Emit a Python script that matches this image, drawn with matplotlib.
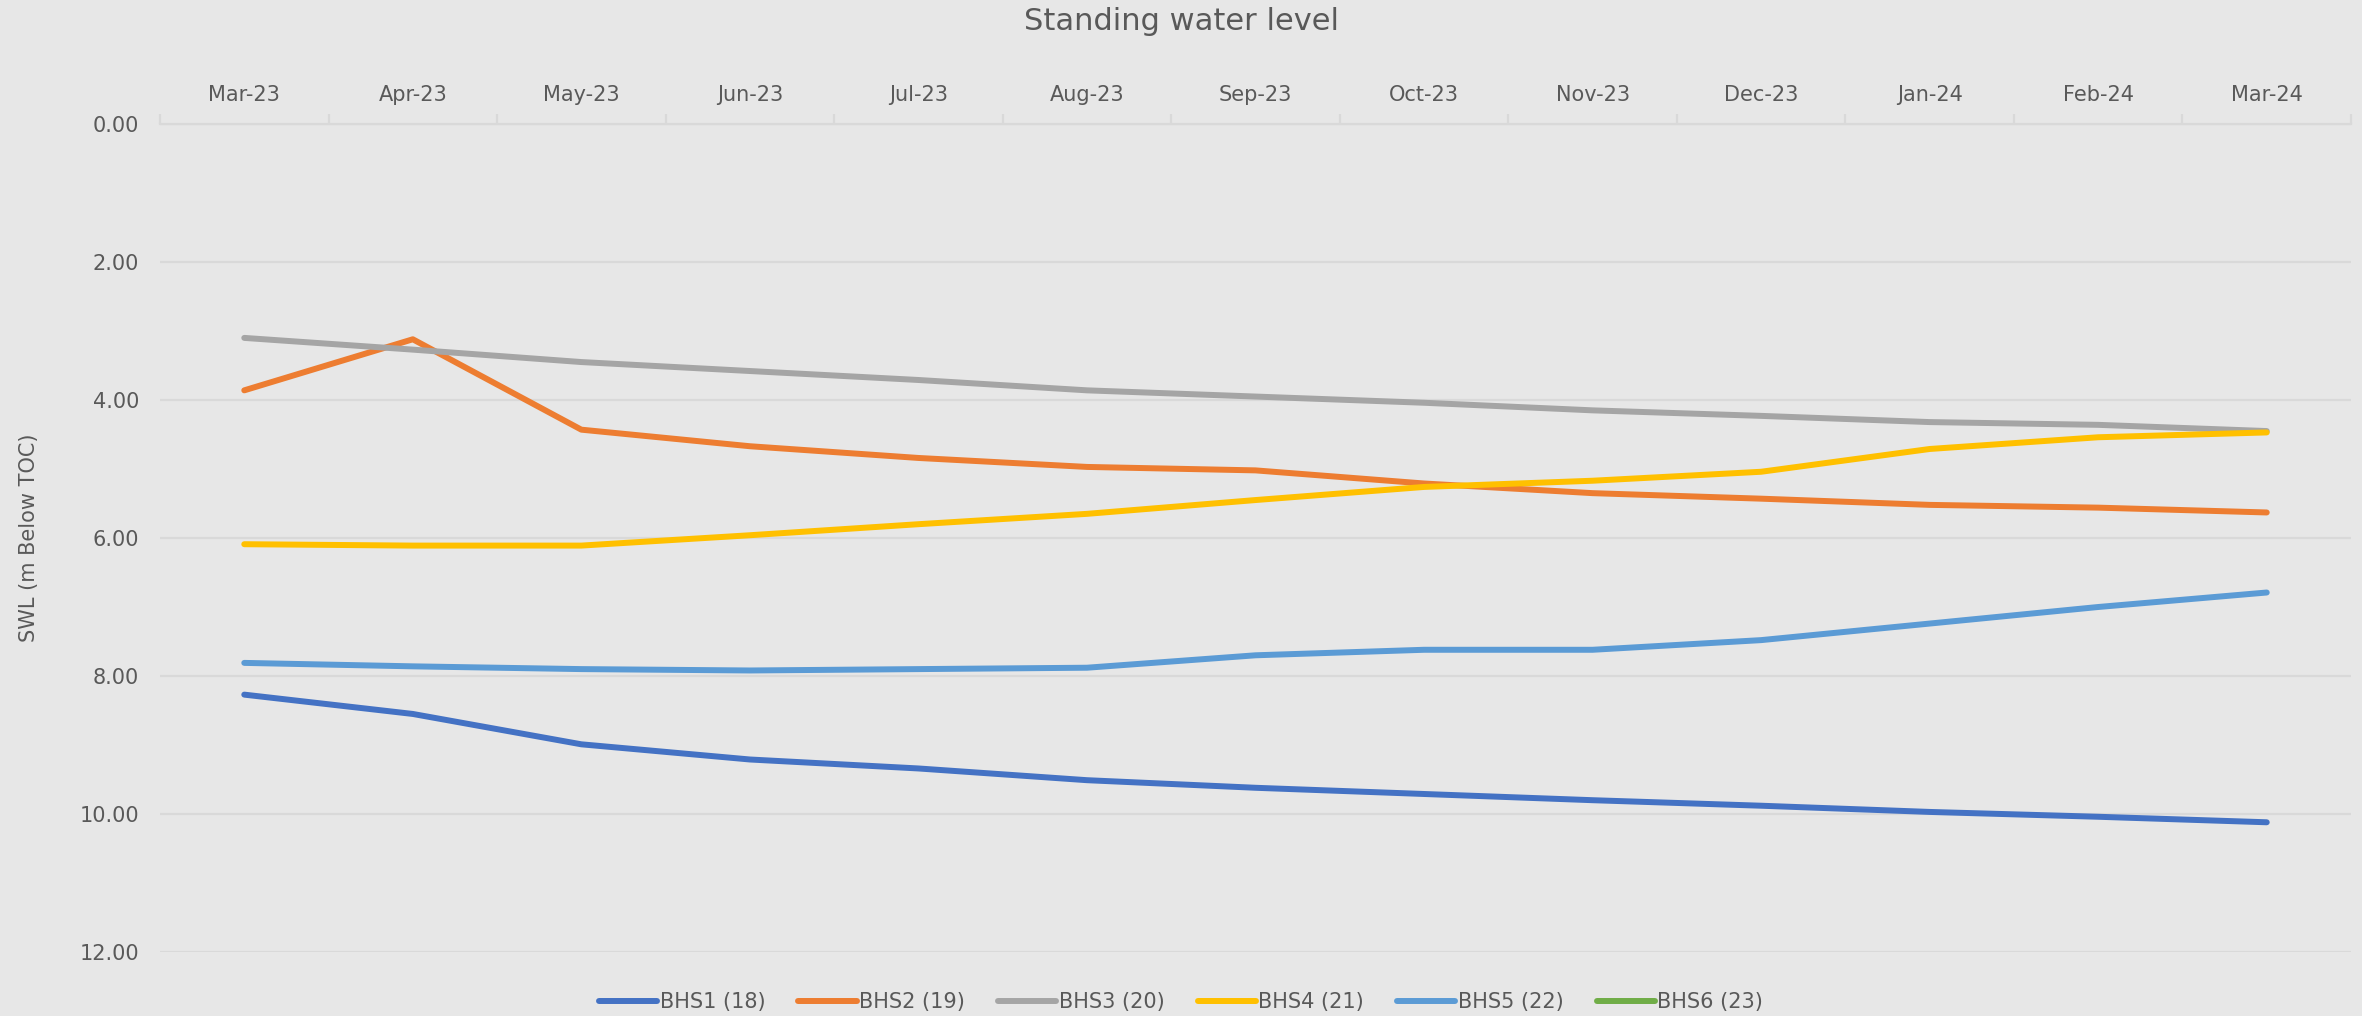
import numpy as np
import matplotlib
matplotlib.use("Agg")
import matplotlib.pyplot as plt
from matplotlib.ticker import FixedLocator, FormatStrFormatter

plt.rcParams['font.family'] = ['Liberation Sans Narrow', 'DejaVu Sans']

months = ['Mar-23', 'Apr-23', 'May-23', 'Jun-23', 'Jul-23', 'Aug-23', 'Sep-23',
          'Oct-23', 'Nov-23', 'Dec-23', 'Jan-24', 'Feb-24', 'Mar-24']

bhs1 = [8.27, 8.55, 8.99, 9.21, 9.34, 9.51, 9.62, 9.71, 9.80, 9.88, 9.97, 10.04, 10.12]
bhs2 = [3.86, 3.12, 4.43, 4.67, 4.84, 4.97, 5.02, 5.21, 5.35, 5.43, 5.52, 5.56, 5.63]
bhs3 = [3.10, 3.27, 3.45, 3.58, 3.71, 3.86, 3.95, 4.04, 4.15, 4.23, 4.32, 4.36, 4.45]
bhs4 = [6.09, 6.11, 6.11, 5.96, 5.80, 5.65, 5.45, 5.26, 5.17, 5.04, 4.71, 4.54, 4.47]
bhs5 = [7.81, 7.86, 7.90, 7.92, 7.90, 7.88, 7.70, 7.62, 7.62, 7.48, 7.24, 7.00, 6.79]
bhs6 = []  # no readings

series_names = ['BHS1 (18)', 'BHS2 (19)', 'BHS3 (20)', 'BHS4 (21)', 'BHS5 (22)', 'BHS6 (23)']
series_data = [bhs1, bhs2, bhs3, bhs4, bhs5, bhs6]
colors = ['#4472C4', '#ED7D31', '#A5A5A5', '#FFC000', '#5B9BD5', '#70AD47']

bg = '#E7E7E7'
grid = '#D9D9D9'
txt = '#595959'

fig = plt.figure(figsize=(23.62, 10.16), dpi=100, facecolor=bg)
ax = fig.add_axes([160 / 2362, 1 - 952 / 1016, 2191 / 2362, 828 / 1016])
ax.set_facecolor(bg)

x = np.arange(len(months))
for name, vals, c in zip(series_names, series_data, colors):
    ax.plot(x[:len(vals)], vals, color=c, lw=4.3, label=name,
            solid_capstyle='round', solid_joinstyle='round')

ax.set_xlim(-0.5, len(months) - 0.5)
ax.set_ylim(12, 0)
ax.yaxis.set_major_locator(FixedLocator(np.arange(0, 13, 2)))
ax.yaxis.set_major_formatter(FormatStrFormatter('%.2f'))
ax.grid(axis='y', color=grid, lw=1.6)
ax.set_axisbelow(True)

ax.xaxis.tick_top()
ax.set_xticks(x)
ax.set_xticklabels(months)
ax.set_xticks(np.arange(-0.5, len(months)), minor=True)
ax.tick_params(axis='x', which='major', length=0, pad=14, labelsize=15, colors=txt)
ax.tick_params(axis='x', which='minor', length=7, width=1.6, color=grid, direction='out')
ax.tick_params(axis='y', length=0, pad=15, labelsize=15, colors=txt)
for lab in ax.get_yticklabels():
    lab.set_fontfamily('DejaVu Sans')

for s in ['left', 'right', 'bottom']:
    ax.spines[s].set_visible(False)
ax.spines['top'].set_color(grid)
ax.spines['top'].set_linewidth(1.6)

ax.set_ylabel('SWL (m Below TOC)', fontsize=15, color=txt)
ax.yaxis.set_label_coords(-0.055, 0.5)

fig.text(0.5, 1 - 22 / 1016, 'Standing water level', ha='center', va='center',
         fontsize=22, color=txt)

leg = fig.legend(loc='center', bbox_to_anchor=(0.5, 1 - 1002 / 1016), ncol=6,
                 frameon=False, fontsize=15, handlelength=2.8, handletextpad=0.1,
                 columnspacing=1.6)
for t in leg.get_texts():
    t.set_color(txt)

fig.savefig('out.png', dpi=100, facecolor=bg)
